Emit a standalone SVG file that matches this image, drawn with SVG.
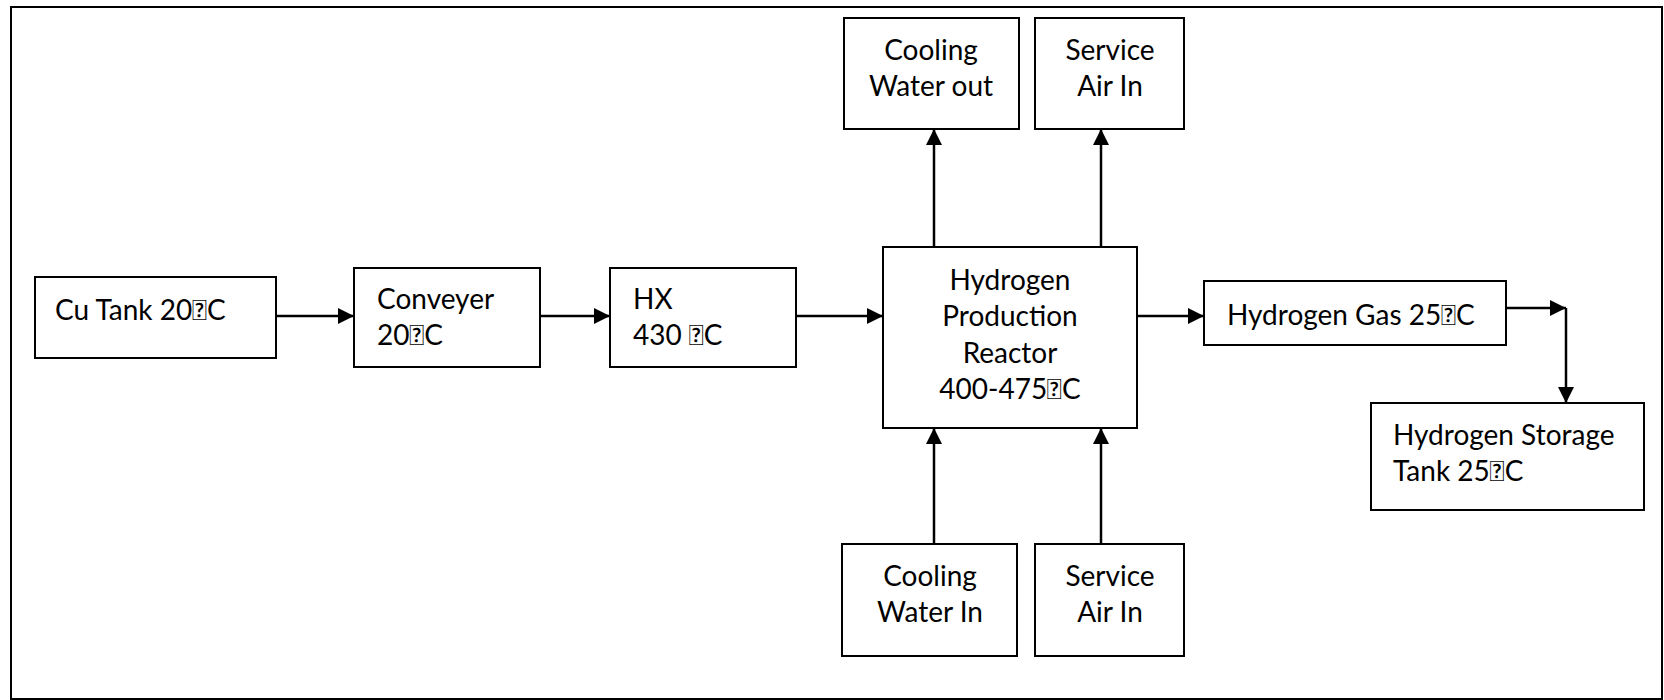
<svg xmlns="http://www.w3.org/2000/svg" width="1664" height="700" viewBox="0 0 1664 700">
<defs>
<style>
.box{fill:#fff;stroke:#000;stroke-width:2}
.t{font-family:Lato,"Liberation Sans",sans-serif;font-size:28px;fill:#000}
.c{text-anchor:middle}
.ln{stroke:#000;stroke-width:2.5;fill:none}
</style>
<marker id="ah" viewBox="0 0 10 10" refX="10" refY="5" markerWidth="6.5" markerHeight="6.5" markerUnits="strokeWidth" orient="auto">
<path d="M0,0 L10,5 L0,10 z" fill="#000"/>
</marker>
</defs>
<rect x="0" y="0" width="1664" height="700" fill="#fff"/>
<rect x="11" y="7" width="1651" height="692" fill="none" stroke="#000" stroke-width="2"/>
<g id="connectors">
<line class="ln" x1="276" y1="316" x2="354" y2="316" marker-end="url(#ah)"/>
<line class="ln" x1="540" y1="316" x2="610" y2="316" marker-end="url(#ah)"/>
<line class="ln" x1="796" y1="316" x2="883" y2="316" marker-end="url(#ah)"/>
<line class="ln" x1="1137" y1="316" x2="1204" y2="316" marker-end="url(#ah)"/>
<line class="ln" x1="1506" y1="308" x2="1566" y2="308" marker-end="url(#ah)"/>
<line class="ln" x1="1566" y1="308" x2="1566" y2="403" marker-end="url(#ah)"/>
<line class="ln" x1="934" y1="247" x2="934" y2="129" marker-end="url(#ah)"/>
<line class="ln" x1="1101" y1="247" x2="1101" y2="129" marker-end="url(#ah)"/>
<line class="ln" x1="934" y1="544" x2="934" y2="428" marker-end="url(#ah)"/>
<line class="ln" x1="1101" y1="544" x2="1101" y2="428" marker-end="url(#ah)"/>
</g>
<g id="cu-tank">
<rect class="box" x="35" y="277" width="241" height="81"/>
<text class="t" x="55" y="320">Cu Tank 20&#xF0B0;C</text>
</g>
<g id="conveyer">
<rect class="box" x="354" y="268" width="186" height="99"/>
<text class="t" x="377" y="309">Conveyer</text>
<text class="t" x="377" y="345">20&#xF0B0;C</text>
</g>
<g id="hx">
<rect class="box" x="610" y="268" width="186" height="99"/>
<text class="t" x="633" y="309">HX</text>
<text class="t" x="633" y="345">430 &#xF0B0;C</text>
</g>
<g id="reactor">
<rect class="box" x="883" y="247" width="254" height="181"/>
<text class="t c" x="1010" y="290">Hydrogen</text>
<text class="t c" x="1010" y="326">Production</text>
<text class="t c" x="1010" y="363">Reactor</text>
<text class="t c" x="1010" y="399">400-475&#xF0B0;C</text>
</g>
<g id="hydrogen-gas">
<rect class="box" x="1204" y="281" width="302" height="64"/>
<text class="t" x="1227" y="325">Hydrogen Gas 25&#xF0B0;C</text>
</g>
<g id="storage-tank">
<rect class="box" x="1371" y="403" width="273" height="107"/>
<text class="t" x="1393" y="445">Hydrogen Storage</text>
<text class="t" x="1393" y="481">Tank 25&#xF0B0;C</text>
</g>
<g id="cooling-water-out">
<rect class="box" x="844" y="18" width="175" height="111"/>
<text class="t c" x="931" y="60">Cooling</text>
<text class="t c" x="931" y="96">Water out</text>
</g>
<g id="service-air-top">
<rect class="box" x="1035" y="18" width="149" height="111"/>
<text class="t c" x="1110" y="60">Service</text>
<text class="t c" x="1110" y="96">Air In</text>
</g>
<g id="cooling-water-in">
<rect class="box" x="842" y="544" width="175" height="112"/>
<text class="t c" x="930" y="586">Cooling</text>
<text class="t c" x="930" y="622">Water In</text>
</g>
<g id="service-air-bottom">
<rect class="box" x="1035" y="544" width="149" height="112"/>
<text class="t c" x="1110" y="586">Service</text>
<text class="t c" x="1110" y="622">Air In</text>
</g>
</svg>
